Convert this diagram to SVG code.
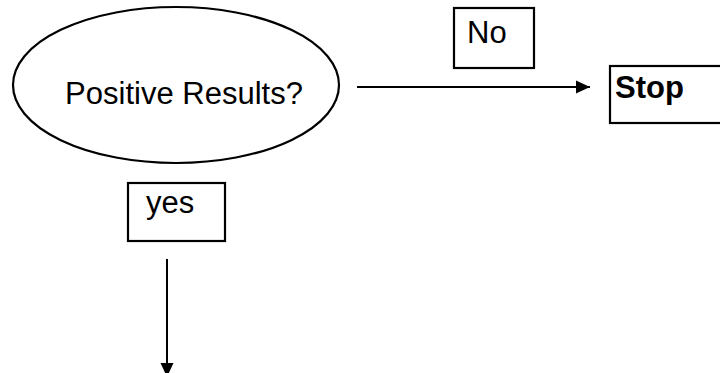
<svg xmlns="http://www.w3.org/2000/svg" width="720" height="373" viewBox="0 0 720 373">
  <style>
    .shape { fill: #ffffff; stroke: #000000; stroke-width: 2.2; }
    .label { font-family: "Liberation Sans", Arial, sans-serif; font-size: 31px; fill: #000000; }
    .bold { font-weight: bold; }
    .wire { fill: none; stroke: #000000; stroke-width: 2; }
  </style>
  <defs>
    <marker id="arrow" markerUnits="userSpaceOnUse" markerWidth="15" markerHeight="14" refX="14" refY="7" orient="auto">
      <path d="M0,0.5 L14,7 L0,13.5 Z" fill="#000000"/>
    </marker>
  </defs>
  <rect width="720" height="373" fill="#ffffff"/>

  <g id="connectors">
    <line class="wire" x1="357" y1="87" x2="590" y2="87" marker-end="url(#arrow)"/>
    <line class="wire" x1="167" y1="259" x2="167" y2="377" marker-end="url(#arrow)"/>
  </g>

  <g id="decision">
    <ellipse class="shape" cx="176" cy="85" rx="163" ry="78"/>
    <text class="label" x="184" y="104" text-anchor="middle">Positive Results?</text>
  </g>

  <g id="label-no">
    <rect class="shape" x="454" y="8" width="80" height="60"/>
    <text class="label" x="467" y="43">No</text>
  </g>

  <g id="stop">
    <rect class="shape" x="610" y="66" width="115" height="57"/>
    <text class="label bold" x="615" y="98">Stop</text>
  </g>

  <g id="label-yes">
    <rect class="shape" x="128" y="183" width="97" height="58"/>
    <text class="label" x="146" y="213">yes</text>
  </g>
</svg>
